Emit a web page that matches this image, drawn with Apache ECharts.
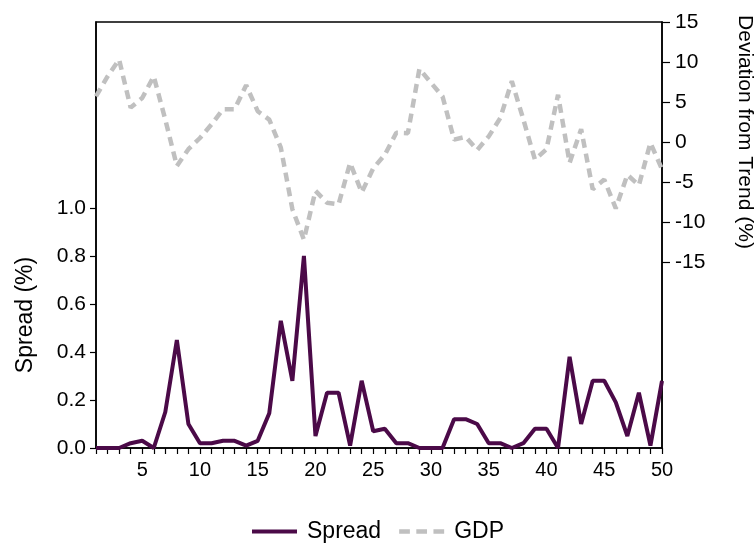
<!DOCTYPE html>
<html>
<head>
<meta charset="utf-8">
<script src="https://cdn.jsdelivr.net/npm/echarts@6/dist/echarts.min.js"></script>
<style>
html,body{margin:0;padding:0;background:#fff;}
#chart{width:756px;height:546px;}
</style>
</head>
<body>
<div id="chart"></div>
<script>
const periods = [1,2,3,4,5,6,7,8,9,10,11,12,13,14,15,16,17,18,19,20,21,22,23,24,25,26,27,28,29,30,31,32,33,34,35,36,37,38,39,40,41,42,43,44,45,46,47,48,49,50];
const spread = [0,0,0,0.02,0.03,0,0.15,0.45,0.10,0.02,0.02,0.03,0.03,0.01,0.03,0.145,0.53,0.28,0.80,0.05,0.23,0.23,0.01,0.28,0.07,0.08,0.02,0.02,0,0,0,0.12,0.12,0.10,0.02,0.02,0,0.02,0.08,0.08,0,0.38,0.10,0.28,0.28,0.19,0.05,0.23,0.01,0.28];
const gdp = [5.7,8.2,10.3,4.3,5.5,8.2,2.8,-3.0,-0.9,0.5,2.2,4.1,4.1,7.1,3.85,2.8,-0.7,-8.4,-12.2,-6.1,-7.6,-7.8,-2.6,-6.3,-3.3,-1.6,1.15,1.1,9.15,7.4,5.7,0.3,0.65,-1.0,0.7,3.0,7.6,2.8,-2.2,-0.9,5.9,-2.6,1.6,-5.9,-4.7,-8.3,-4.1,-5.4,-0.1,-3.4];
const xLabels = [5,10,15,20,25,30,35,40,45,50];
const leftTicks = [0,0.2,0.4,0.6,0.8,1.0];
const rightTicks = [-15,-10,-5,0,5,10,15];

const FONT = 'Liberation Sans, Arial, sans-serif';
const SPREAD_COLOR = '#4b0a48';
const GDP_COLOR = '#c0c0c0';
const chart = echarts.init(document.getElementById('chart'), null, {renderer:'canvas'});
chart.setOption({
  animation:false,
  backgroundColor:'#fff',
  grid:{left:96,right:94,top:22,bottom:98,show:true,borderColor:'#000',borderWidth:1.5,containLabel:false},
  legend:{
    left:247, top:515, itemWidth:45, itemHeight:14, itemGap:18,
    data:[
      {name:'Spread',icon:'path://M0,0h45v4h-45z',itemStyle:{color:SPREAD_COLOR}},
      {name:'GDP',icon:'path://M0,0h10v4h-10z M16,0h10v4h-10z M32,0h10v4h-10z',itemStyle:{color:GDP_COLOR}}
    ],
    textStyle:{fontFamily:FONT,fontSize:23,color:'#000',padding:[0,0,0,5]}
  },
  xAxis:{
    type:'value', min:1, max:50, interval:1,
    axisLine:{lineStyle:{color:'#000',width:1.5}},
    axisTick:{customValues:periods,length:6,lineStyle:{color:'#000',width:1.2}},
    axisLabel:{customValues:xLabels,fontFamily:FONT,fontSize:20,color:'#000',margin:12},
    splitLine:{show:false}
  },
  yAxis:[
    {type:'value',position:'left',min:0,max:1.775,
     axisLine:{show:true,lineStyle:{color:'#000',width:1.5}},
     axisTick:{show:true,customValues:leftTicks,length:6,lineStyle:{color:'#000',width:1.2}},
     axisLabel:{customValues:leftTicks,formatter:v=>v.toFixed(1),fontFamily:FONT,fontSize:21,color:'#000',margin:10},
     splitLine:{show:false}},
    {type:'value',position:'right',min:-38.25,max:15,
     axisLine:{show:true,lineStyle:{color:'#000',width:1.5}},
     axisTick:{show:true,customValues:rightTicks,length:8,lineStyle:{color:'#000',width:1.2}},
     axisLabel:{customValues:rightTicks,fontFamily:FONT,fontSize:21,color:'#000',margin:13},
     splitLine:{show:false}}
  ],
  graphic:[
    {type:'text',x:26,y:315,rotation:Math.PI/2,
     style:{text:'Spread (%)',fontFamily:FONT,fontSize:23,fill:'#000',align:'center',verticalAlign:'middle'}},
    {type:'text',x:745,y:132,rotation:-Math.PI/2,
     style:{text:'Deviation from Trend (%)',fontFamily:FONT,fontSize:21,fill:'#000',align:'center',verticalAlign:'middle'}}
  ],
  series:[
    {name:'GDP',type:'line',yAxisIndex:1,symbol:'none',
     data:periods.map((p,i)=>[p,gdp[i]]),
     lineStyle:{color:GDP_COLOR,width:4.5,type:[9,6]},itemStyle:{color:GDP_COLOR}},
    {name:'Spread',type:'line',yAxisIndex:0,symbol:'none',
     data:periods.map((p,i)=>[p,spread[i]]),
     lineStyle:{color:SPREAD_COLOR,width:4},itemStyle:{color:SPREAD_COLOR}}
  ]
});
</script>
</body>
</html>
